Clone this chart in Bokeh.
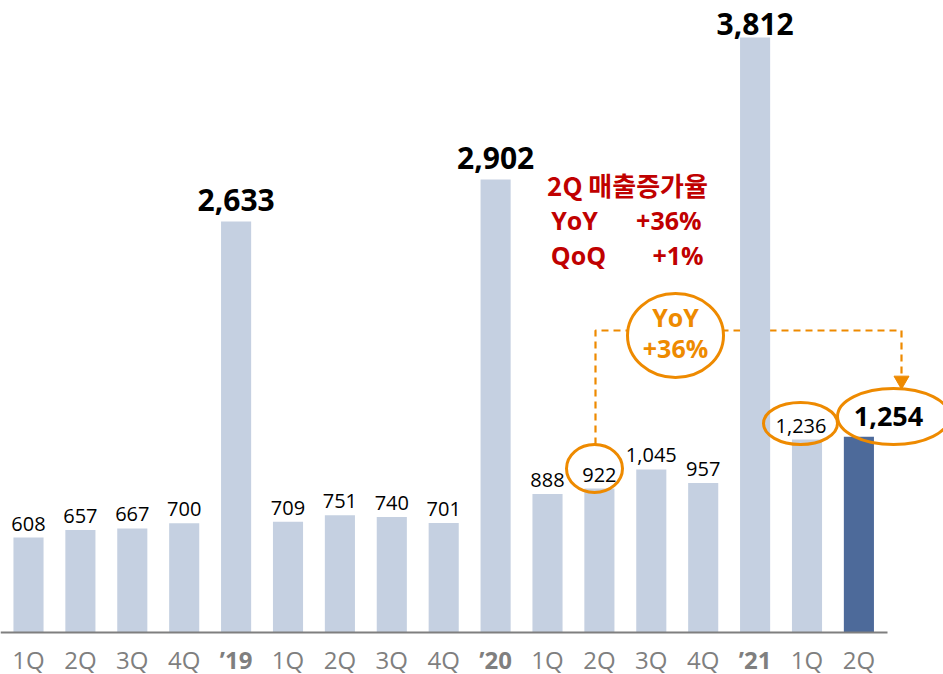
from bokeh.plotting import figure
from bokeh.models import Range1d, FixedTicker, LinearAxis
from bokeh.core.properties import value
from bokeh.embed import file_html
from bokeh.resources import INLINE

# ---- data ----
tick_labels = ["1Q", "2Q", "3Q", "4Q", "\u201919", "1Q", "2Q", "3Q", "4Q", "\u201920",
               "1Q", "2Q", "3Q", "4Q", "\u201921", "1Q", "2Q"]
sales = [608, 657, 667, 700, 2633, 709, 751, 740, 701, 2902,
         888, 922, 1045, 957, 3812, 1236, 1254]
yoy_from_idx = 11   # 2Q'20
qoq_from_idx = 15   # 1Q'21
current_idx = 16    # 2Q'21
growth_title = "2Q 매출증가율"
yoy_text = "+36%"
qoq_text = "+1%"

# ---- layout (pixels of the picture) ----
W, H = 943, 674
PITCH = 51.9       # px per category
X0 = 28.0          # px of first bar centre
SCALE = 0.1561     # px per unit of sales
BASE = 632.0       # px of the baseline

def X(px):         # picture x pixel -> data x
    return (px - X0) / PITCH

def Y(py):         # picture y pixel -> data y
    return (BASE - py) / SCALE

LIGHT = "#C5D0E1"
DARK = "#4D6A9A"
ORANGE = "#EE8A00"
RED = "#C00000"
GRAY = "#7F7F7F"
FONT = "Open Sans"

xs = list(range(len(sales)))
is_year = [lab.startswith("\u2019") for lab in tick_labels]

p = figure(width=W, height=H,
           x_range=Range1d(X(0), X(W)), y_range=Range1d(Y(H), Y(0)),
           output_backend="svg", toolbar_location=None,
           x_axis_type=None, y_axis_type=None,
           min_border=0, outline_line_color=None,
           background_fill_color="white", border_fill_color="white")

# dashed YoY connector (drawn behind the bars)
p.line(x=[X(595), X(595), X(901), X(901)],
       y=[Y(444), Y(330), Y(330), Y(376)],
       line_color=ORANGE, line_width=2.2, line_dash="7 5")
p.scatter(x=[X(901)], y=[Y(380)], marker="inverted_triangle",
          size=15, fill_color=ORANGE, line_color=ORANGE)

# bars
colors = [DARK if i == current_idx else LIGHT for i in xs]
p.vbar(x=xs, top=sales, width=0.58, fill_color=colors, line_color=None)

# value labels
top_val = max(sales)
for i, v in enumerate(sales):
    txt = f"{v:,}"
    if i == current_idx:
        p.text(x=[X(888)], y=[Y(416)], text=[txt], text_font=value(FONT),
               text_font_size="27px", text_font_style="bold", text_color="black",
               text_align="center", text_baseline="middle")
    elif is_year[i]:
        p.text(x=[i], y=[v], text=[txt], text_font=value(FONT),
               text_font_size="30px", text_font_style="bold", text_color="black",
               text_align="center", text_baseline="bottom",
               y_offset=(-2 if v == top_val else -10))
    else:
        p.text(x=[i - (6 / PITCH if i == qoq_from_idx else 0)], y=[v], text=[txt],
               text_font=value(FONT), text_font_size="20px", text_color="black",
               text_align="center", text_baseline="bottom", y_offset=-7)

# highlight ellipses
p.ellipse(x=[X(594), X(800), X(893)], y=[Y(468), Y(423), Y(416)],
          width=[56, 74, 112], height=[48, 42, 56],
          width_units="screen", height_units="screen",
          fill_color=None, line_color=ORANGE, line_width=3)

# YoY bubble
p.ellipse(x=[X(675)], y=[Y(335)], width=96, height=84,
          width_units="screen", height_units="screen",
          fill_color="white", line_color=ORANGE, line_width=3)
p.text(x=[X(675), X(675)], y=[Y(316), Y(347)], text=["YoY", yoy_text],
       text_font=value(FONT), text_font_size="25px", text_font_style="bold",
       text_color=ORANGE, text_align="center", text_baseline="middle")

# red growth box
p.text(x=[X(627)], y=[Y(184)], text=[growth_title],
       text_font=value("Noto Sans CJK KR"), text_font_size="26px", text_font_style="bold",
       text_color=RED, text_align="center", text_baseline="middle")
p.text(x=[X(574), X(578)], y=[Y(219), Y(254)], text=["YoY", "QoQ"],
       text_font=value(FONT), text_font_size="25px", text_font_style="bold",
       text_color=RED, text_align="center", text_baseline="middle")
p.text(x=[X(701), X(703)], y=[Y(219), Y(254)], text=[yoy_text, qoq_text],
       text_font=value(FONT), text_font_size="25px", text_font_style="bold",
       text_color=RED, text_align="right", text_baseline="middle")

# category axes (quarters normal, years bold) sitting on the baseline
q_ticks = [i for i in xs if not is_year[i]]
y_ticks = [i for i in xs if is_year[i]]
ax_q = LinearAxis(ticker=FixedTicker(ticks=q_ticks),
                  major_label_overrides={i: tick_labels[i] for i in q_ticks})
ax_y = LinearAxis(ticker=FixedTicker(ticks=y_ticks),
                  major_label_overrides={i: tick_labels[i] for i in y_ticks})
for ax, style in ((ax_q, "normal"), (ax_y, "bold")):
    ax.fixed_location = 0
    ax.major_tick_line_color = None
    ax.minor_tick_line_color = None
    ax.major_label_text_font = FONT
    ax.major_label_text_font_size = "24px"
    ax.major_label_text_font_style = style
    ax.major_label_text_color = GRAY
    ax.major_label_standoff = 4
ax_q.axis_line_color = GRAY
ax_q.axis_line_width = 2
ax_q.bounds = (X(0), 16.55)
ax_y.axis_line_color = None
p.add_layout(ax_q, "below")
p.add_layout(ax_y, "below")

open("out.html", "w").write(file_html(p, INLINE))
